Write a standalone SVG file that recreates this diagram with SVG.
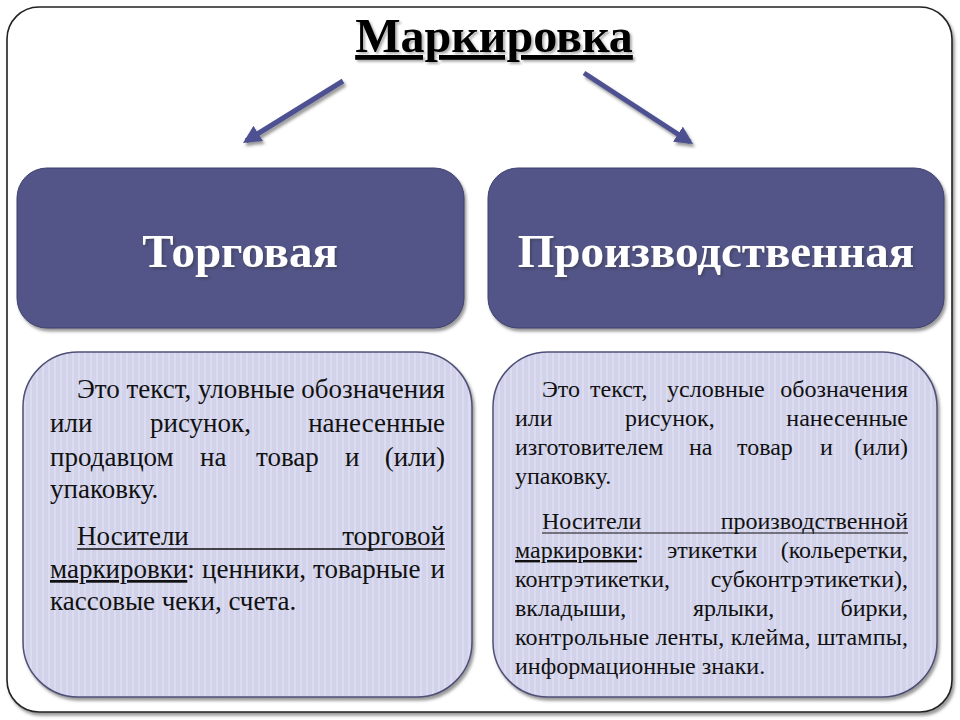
<svg xmlns="http://www.w3.org/2000/svg" width="960" height="720" viewBox="0 0 960 720">
<defs>
<pattern id="stripes" width="6" height="10" patternUnits="userSpaceOnUse">
<rect width="6" height="10" fill="#d2d3ea"/>
<rect x="0" width="2" height="10" fill="#dcdcf0"/>
</pattern>
<filter id="sh" x="-5%" y="-5%" width="115%" height="115%">
<feDropShadow dx="2" dy="3" stdDeviation="1.5" flood-color="#555" flood-opacity="0.6"/>
</filter>
<filter id="tsh" x="-5%" y="-10%" width="115%" height="130%">
<feDropShadow dx="2" dy="2" stdDeviation="1" flood-color="#333" flood-opacity="0.4"/>
</filter>
<marker id="ah" viewBox="0 0 10 10" refX="8" refY="5" markerWidth="3.6" markerHeight="3.6" orient="auto" markerUnits="strokeWidth">
<path d="M0,0 L10,5 L0,10 z" fill="#4e5192"/>
</marker>
</defs>
<style>
.frame{fill:#fff;stroke:#222;stroke-width:1.6}
.dark{fill:#525488;stroke:#3f416f;stroke-width:1}
.light{fill:url(#stripes);stroke:#4f5078;stroke-width:1.5}
.head{font-weight:bold;fill:#fff;font-size:47px}
.body{fill:#111}
.l{font-size:27px}
.r{font-size:24px}
.u{text-decoration:underline}
.arrow{stroke:#4e5192;stroke-width:5;fill:none;marker-end:url(#ah)}
</style>
<rect class="frame" x="7" y="7" width="945" height="705" rx="32" filter="url(#sh)"/>
<g id="title">
<text x="494" y="52" text-anchor="middle" font-family="Liberation Serif, Times New Roman, serif" font-weight="bold" font-size="48" text-decoration="underline" fill="#000" filter="url(#tsh)">Маркировка</text>
</g>
<g id="connectors" filter="url(#sh)">
<line class="arrow" x1="343" y1="81" x2="246" y2="141"/>
<line class="arrow" x1="584" y1="73" x2="690" y2="142"/>
</g>
<g id="node-trade">
<rect class="dark" x="17" y="168" width="447" height="160" rx="30" filter="url(#sh)"/>
<text class="head" x="240" y="267" text-anchor="middle" font-family="Liberation Serif, Times New Roman, serif" filter="url(#tsh)">Торговая</text>
</g>
<g id="node-prod">
<rect class="dark" x="488" y="168" width="456" height="160" rx="30" filter="url(#sh)"/>
<text class="head" x="716" y="267" text-anchor="middle" font-family="Liberation Serif, Times New Roman, serif" filter="url(#tsh)">Производственная</text>
</g>
<g id="node-trade-desc">
<rect class="light" x="23" y="352" width="449" height="345" rx="55" filter="url(#sh)"/>
<g class="body l" font-family="Liberation Serif, Times New Roman, serif">
<text x="77" y="398" textLength="368" lengthAdjust="spacing">Это текст, уловные обозначения</text>
<text y="432"><tspan x="50">или</tspan><tspan x="150">рисунок,</tspan><tspan x="445" text-anchor="end">нанесенные</tspan></text>
<text y="466"><tspan x="50">продавцом</tspan><tspan x="200">на</tspan><tspan x="256">товар</tspan><tspan x="345">и</tspan><tspan x="445" text-anchor="end">(или)</tspan></text>
<text x="50" y="498">упаковку.</text>
<text y="545"><tspan x="77">Носители</tspan><tspan x="445" text-anchor="end">торговой</tspan></text>
<line x1="77" y1="549" x2="445" y2="549" stroke="#111" stroke-width="1.3"/>
<text y="578"><tspan x="50" class="u">маркировки</tspan><tspan>:</tspan><tspan x="202">ценники,</tspan><tspan x="313">товарные</tspan><tspan x="445" text-anchor="end">и</tspan></text>
<text x="50" y="610">кассовые чеки, счета.</text>
</g>
</g>
<g id="node-prod-desc">
<rect class="light" x="493" y="352" width="444" height="345" rx="55" filter="url(#sh)"/>
<g class="body r" font-family="Liberation Serif, Times New Roman, serif">
<text y="397"><tspan x="542">Это</tspan><tspan x="590">текст,</tspan><tspan x="667">условные</tspan><tspan x="908" text-anchor="end">обозначения</tspan></text>
<text y="426"><tspan x="515">или</tspan><tspan x="625">рисунок,</tspan><tspan x="908" text-anchor="end">нанесенные</tspan></text>
<text y="455"><tspan x="515">изготовителем</tspan><tspan x="689">на</tspan><tspan x="737">товар</tspan><tspan x="820">и</tspan><tspan x="908" text-anchor="end">(или)</tspan></text>
<text x="515" y="484">упаковку.</text>
<text y="529"><tspan x="542">Носители</tspan><tspan x="908" text-anchor="end">производственной</tspan></text>
<line x1="542" y1="533" x2="908" y2="533" stroke="#111" stroke-width="1.2"/>
<text y="558"><tspan x="515" class="u">маркировки</tspan><tspan>:</tspan><tspan x="667">этикетки</tspan><tspan x="908" text-anchor="end">(кольеретки,</tspan></text>
<text y="587"><tspan x="515">контрэтикетки,</tspan><tspan x="908" text-anchor="end">субконтрэтикетки),</tspan></text>
<text y="616"><tspan x="515">вкладыши,</tspan><tspan x="693">ярлыки,</tspan><tspan x="908" text-anchor="end">бирки,</tspan></text>
<text x="515" y="645" textLength="393" lengthAdjust="spacing">контрольные ленты, клейма, штампы,</text>
<text x="515" y="674">информационные знаки.</text>
</g>
</g>
</svg>
